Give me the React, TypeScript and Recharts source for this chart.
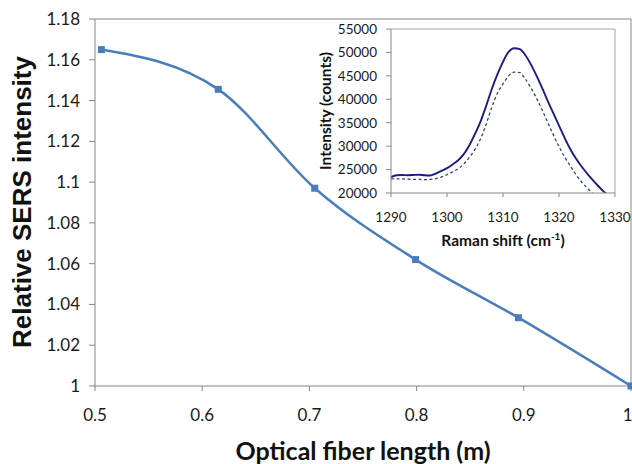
import { LineChart, Line, XAxis, YAxis, ReferenceLine, Label } from "recharts";

// main chart: relative SERS intensity vs fibre length
const LENGTHS = [0.506, 0.615, 0.705, 0.799, 0.895, 1.0];
const SERS = [1.165, 1.1455, 1.097, 1.062, 1.0335, 1.0];
const LENGTH_TICKS = [0.5, 0.6, 0.7, 0.8, 0.9, 1];
const SERS_TICKS = [1, 1.02, 1.04, 1.06, 1.08, 1.1, 1.12, 1.14, 1.16, 1.18];

// inset: Raman spectra
const SHIFT = [
  1290, 1291, 1292, 1293, 1294, 1295, 1296, 1297, 1298, 1299,
  1300, 1301, 1302, 1303, 1304, 1305, 1306, 1307, 1308, 1309,
  1310, 1311, 1312, 1313, 1314, 1315, 1316, 1317, 1318, 1319,
  1320, 1321, 1322, 1323, 1324, 1325, 1326, 1327, 1328, 1329,
];
const SOLID = [
  23400, 23800, 23850, 23800, 23850, 23900, 23800, 23750, 24150, 24700,
  25300, 26100, 27000, 28300, 30200, 32600, 35300, 38600, 42200, 45300,
  48000, 50100, 50900, 50700, 49400, 47400, 45000, 42400, 39600, 37000,
  34400, 31800, 29400, 27400, 25700, 24200, 22800, 21500, 20300, 19300,
];
const DASHED = [
  23000, 23000, 23000, 22950, 22900, 22900, 22850, 22900, 23050, 23400,
  23900, 24500, 25200, 26200, 27600, 29300, 31600, 34700, 38300, 41300,
  43300, 45000, 45800, 45700, 44300, 42400, 40200, 37700, 35000, 32400,
  29900, 27700, 25800, 24000, 22400, 21100, 19900, null, null, null,
];
const SHIFT_TICKS = [1290, 1300, 1310, 1320, 1330];
const COUNT_TICKS = [20000, 25000, 30000, 35000, 40000, 45000, 50000, 55000];

const mainData = LENGTHS.map((len, i) => ({ len, sers: SERS[i] }));
const insetData = SHIFT.map((shift, i) => ({ shift, solid: SOLID[i], dashed: DASHED[i] }));

const CALIBRI = "Lato, 'Open Sans', sans-serif";
const ARIAL = "'Liberation Sans', Arial, sans-serif";
const AXIS_GREY = "#868686";
const BLUE = "#4a7ebb";

const square = (p: any) => (
  <rect key={`sq-${p.index}`} x={p.cx - 3.5} y={p.cy - 3.5} width={7} height={7} fill={BLUE} />
);

export default function App() {
  return (
    <div style={{ position: "absolute", left: 0, top: 0, width: 632, height: 464, background: "#fff" }}>
      <LineChart width={632} height={464} data={mainData} margin={{ top: 19, right: 1, bottom: 0, left: 0 }}>
        <XAxis
          dataKey="len" type="number" domain={[0.5, 1]} ticks={LENGTH_TICKS}
          height={78} tickSize={5} tickMargin={18}
          stroke={AXIS_GREY} tick={{ fill: "#1a1a1a", fontSize: 17, fontFamily: CALIBRI }}
        >
          <Label content={() => (
            <text x={363} y={460} textAnchor="middle" fontFamily={CALIBRI} fontWeight={700} fontSize={25} fill="#111">
              Optical fiber length (m)
            </text>
          )} />
        </XAxis>
        <YAxis
          type="number" domain={[1, 1.18]} ticks={SERS_TICKS}
          width={95} tickSize={6} tickMargin={9}
          stroke={AXIS_GREY} tick={{ fill: "#1a1a1a", fontSize: 17, fontFamily: CALIBRI }}
        >
          <Label content={() => (
            <text x={22} y={202} transform="rotate(-90 22 202)" textAnchor="middle" dominantBaseline="central"
              fontFamily={ARIAL} fontWeight={700} fontSize={26} fill="#111">
              Relative SERS intensity
            </text>
          )} />
        </YAxis>
        <ReferenceLine y={1.18} stroke={AXIS_GREY} />
        <ReferenceLine x={1} stroke={AXIS_GREY} />
        <Line
          type="monotone" dataKey="sers" stroke={BLUE} strokeWidth={2.5}
          dot={square} activeDot={false} isAnimationActive={false}
        />
      </LineChart>

      <div style={{ position: "absolute", left: 300, top: 0 }}>
        <LineChart width={332} height={260} data={insetData} margin={{ top: 29, right: 17, bottom: 0, left: 0 }}>
          <XAxis
            dataKey="shift" type="number" domain={[1290, 1330]} ticks={SHIFT_TICKS}
            height={67} tickSize={4} tickMargin={15}
            stroke={AXIS_GREY} tick={{ fill: "#1a1a1a", fontSize: 13.5, fontFamily: CALIBRI }}
          >
            <Label content={() => (
              <text x={203} y={246} textAnchor="middle" fontFamily={CALIBRI} fontWeight={700} fontSize={15.5} fill="#111">
                Raman shift (cm<tspan fontSize={10} dy={-6}>-1</tspan><tspan dy={6}>)</tspan>
              </text>
            )} />
          </XAxis>
          <YAxis
            type="number" domain={[20000, 55000]} ticks={COUNT_TICKS} allowDataOverflow
            width={91} tickSize={5} tickMargin={9}
            stroke={AXIS_GREY} tick={{ fill: "#1a1a1a", fontSize: 13.5, fontFamily: CALIBRI }}
          >
            <Label content={() => (
              <text x={25} y={111} transform="rotate(-90 25 111)" textAnchor="middle" dominantBaseline="central"
                fontFamily={CALIBRI} fontWeight={700} fontSize={15.5} fill="#111">
                Intensity (counts)
              </text>
            )} />
          </YAxis>
          <ReferenceLine y={55000} stroke="#a6a6a6" />
          <ReferenceLine x={1330} stroke="#a6a6a6" />
          <Line
            type="monotone" dataKey="solid" stroke="#1c1c80" strokeWidth={1.9}
            dot={false} activeDot={false} isAnimationActive={false}
          />
          <Line
            type="monotone" dataKey="dashed" stroke="#34466e" strokeWidth={1.3} strokeDasharray="3 2.5"
            dot={false} activeDot={false} isAnimationActive={false}
          />
        </LineChart>
      </div>
    </div>
  );
}
